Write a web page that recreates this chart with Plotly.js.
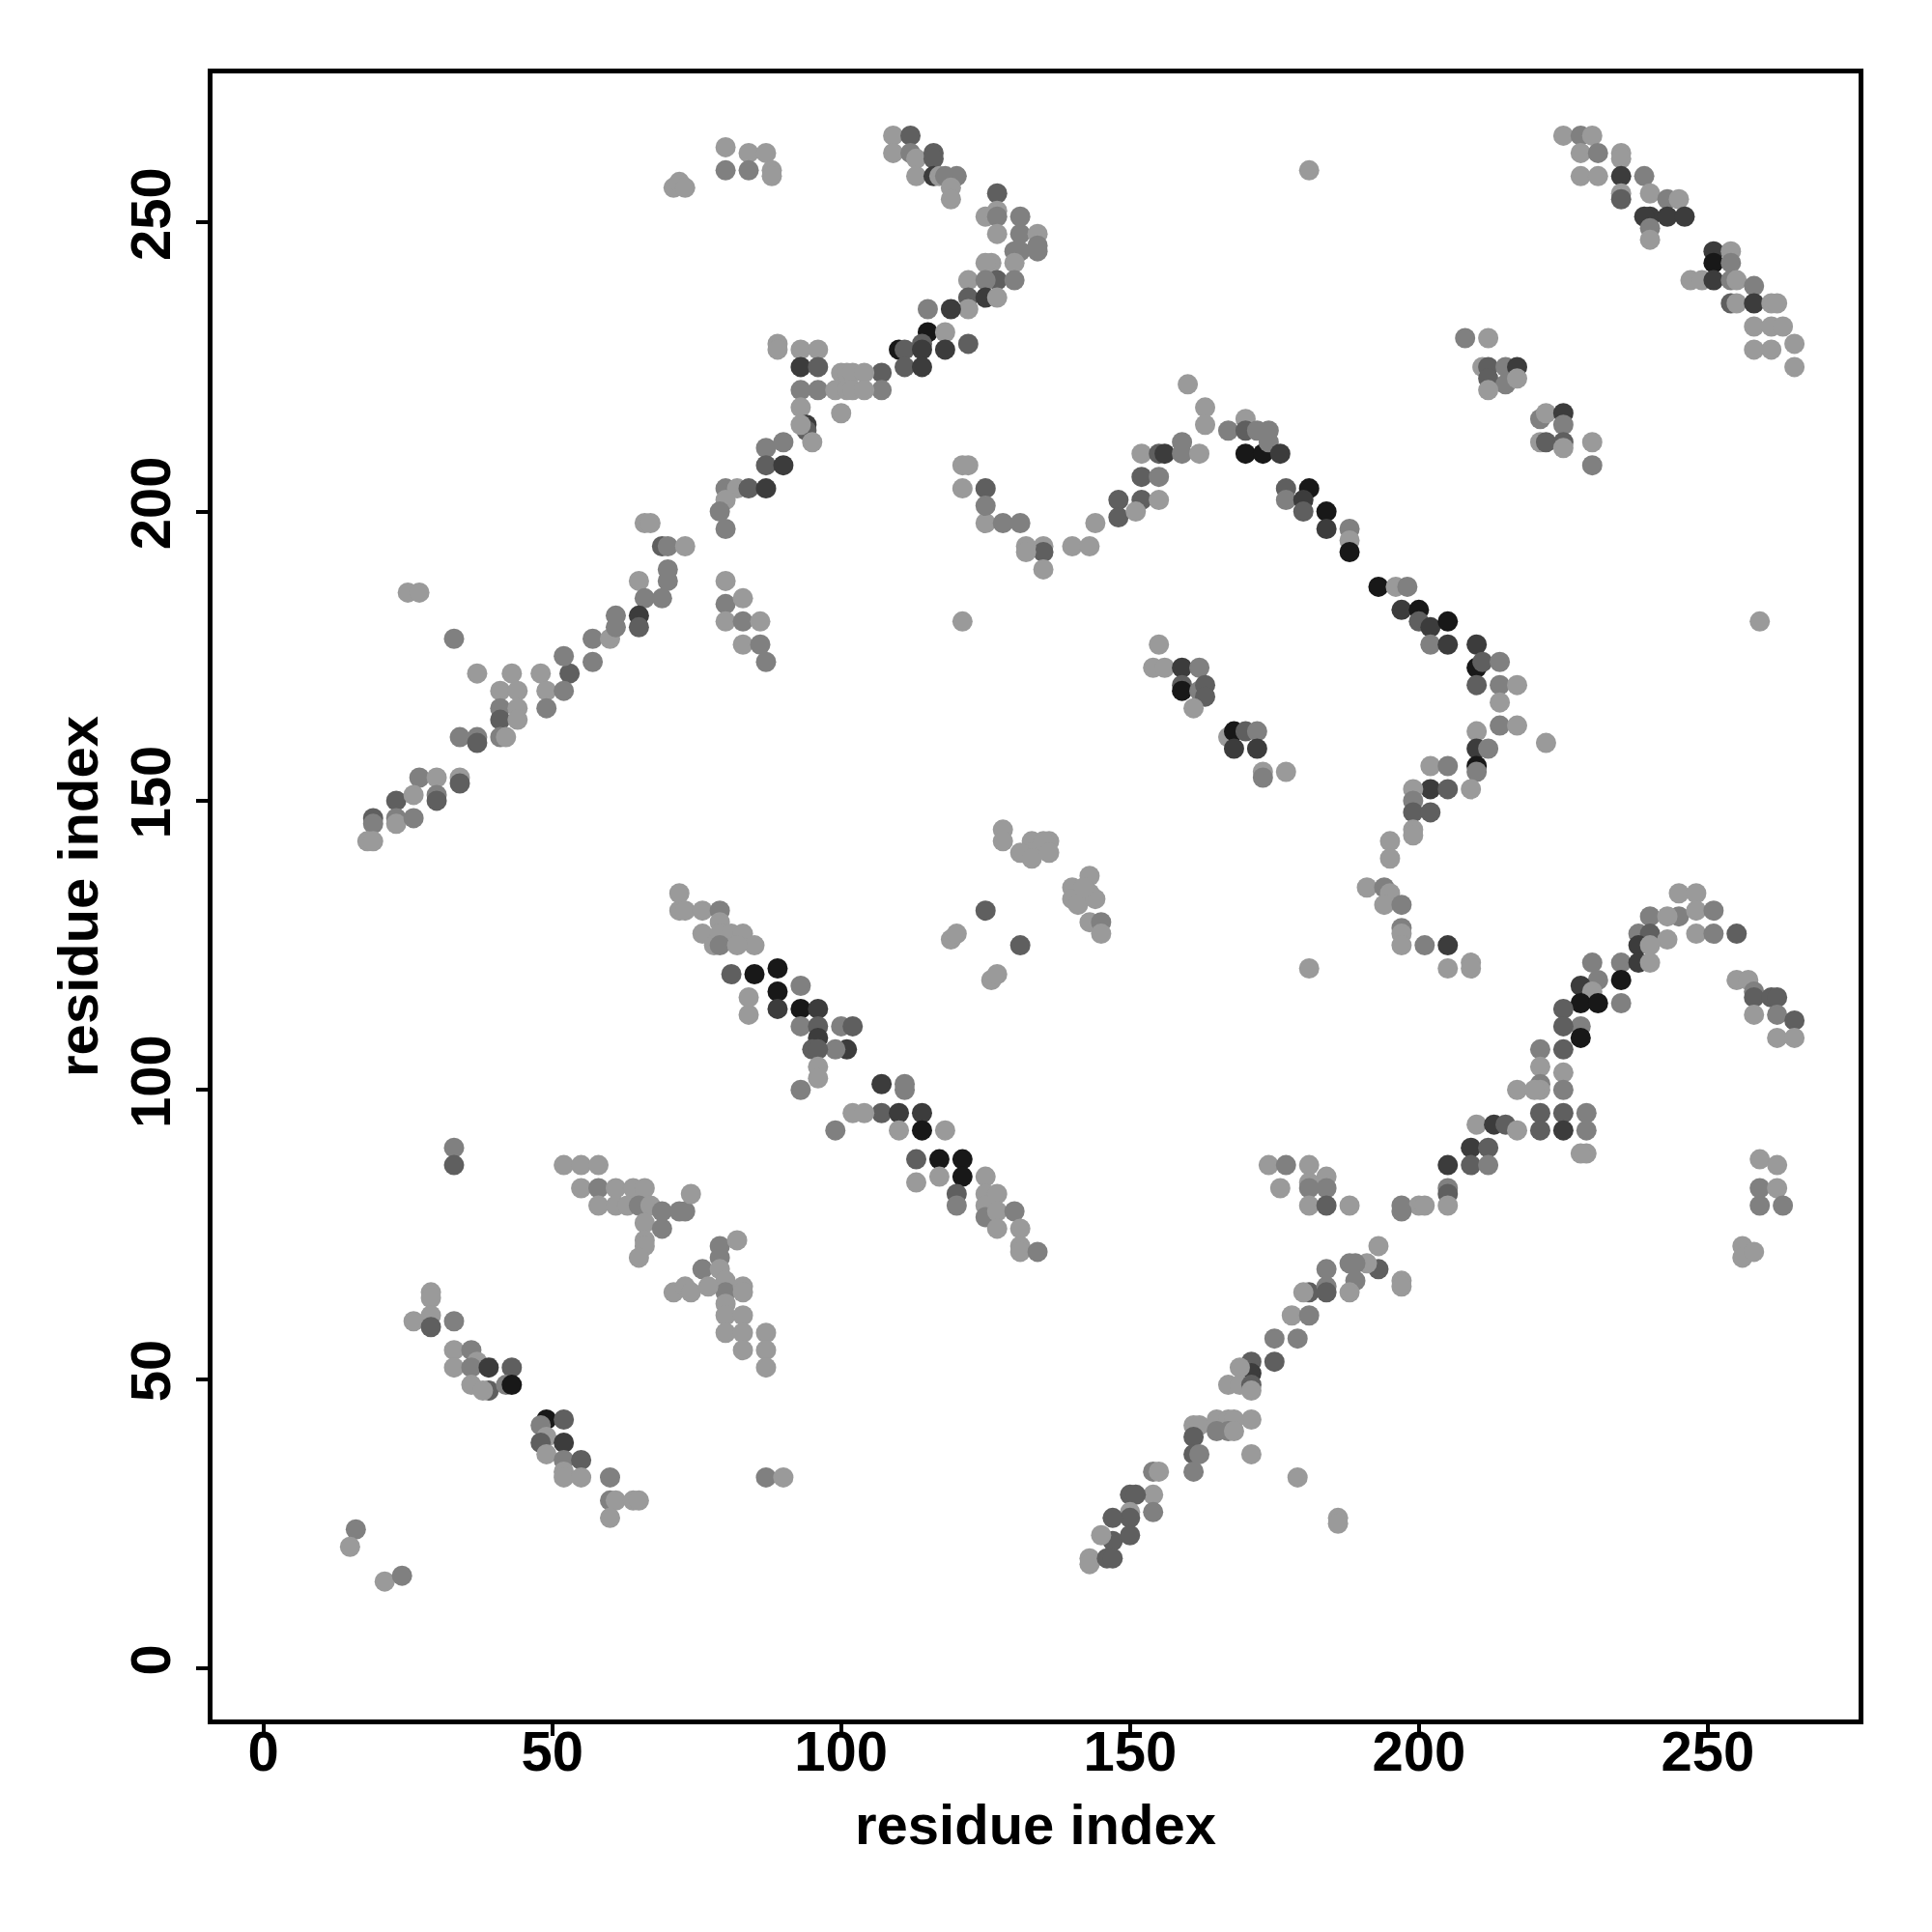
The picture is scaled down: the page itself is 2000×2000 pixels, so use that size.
<!DOCTYPE html>
<html><head><meta charset="utf-8">
<script src="https://cdn.plot.ly/plotly-3.0.1.min.js"></script>
<style>html,body{margin:0;padding:0;background:#fff}</style>
</head><body>
<div id="chart" style="width:2000px;height:2000px"></div>
<script>
// residue index pairs (x = residue i, y = residue j) and contact strength level (1 light .. 5 darkest)
const residueI = [
  // upper-left cluster
  80,84,80,84,71,72,73,80,82,84,80,79,80,66,67,69,70,73,70,70,69,65,66,65,61,25,27,80,80,83,80,83,86,
  // upper-middle arc
  87,88,88,109,112,109,112,113,116,116, 113,116,117,118,120,119,119,127,127,125, 127,127,131,131,131,130,134,134,134,126,
  125,130,122,127,125,130,122,122,125,127, 119,115,115,118,118,122,114,110,111,114, 111,114,107,107,93,96,93,96,93,96,
  89,89,100,101,102,104,99,101,102,104, 100,93,94,94,93,95,87,90,87,90, 87,
  160,163,163,167,170,170,172,174,170,173, 174,176,152,155,156,159,159,162,152,155, 152,155,148,144,148,151,140,143,135,135,
  135,132,132,125,128,131,125,125,121,122, 121,177,181,177,180,180,121,
  // upper-right
  181,225,228,230,228,231,235,235,228,231, 235,239,235,235,240,240,243,245,239,243, 246,240,240,251,254,251,254,247,249,251,
  254,255,258,254,255,258,261,262,258,261, 263,258,261,265,265,208,212,211,212,215, 217,212,215,217,212,221,222,225,225,221,
  222,225,225,230,230,184,184,188,188,188, 193,196,198,197,200,200,202,205,259,
  // middle-left
  33,37,43,41,44,41,44,41,44,41, 42,34,37,37,48,53,49,52,49,52, 57,60,61,57,65,83,86,87,27,30,
  34,34,23,26,30,30,19,19,23,23, 26,18,19,72,72,73,76,79,79,76, 79,81,83,85,78,79,82,81,85,84,
  84,33,33,52,55,58,
  // centre
  155,154,156,159,162,159,159,162,163,163, 161,167,168,170,172,168,172,173,173,177, 128,128,133,136,135,133,131,133,135,136,
  143,143,140,140,141,144,142,143,145,145, 125,131,119,120,126,127,181,89,89,89, 93,93,96,93,96,96,100,102,101,99,
  95,96,96,96,93,107,111,111,107,110, 114,114,102,104,99,110,118,113,117,121, 117,121,125,174,177,181,
  // middle-right
  202,205,210,210,211,214,210,214,217,214, 214,217,222,210,210,212,210,210,202,205, 202,205,209,199,199,199,202,199,199,195,
  195,191,194,195,194,197,197,197,197,201, 205,205,209,209,245,248,240,245,248,251, 243,238,240,243,248,251,255,238,240,235,
  238,240,235,235,230,231,228,230,228,231, 225,228,225,228,221,225,221,221,221,225, 225,217,220,221,225,229,221,225,229,229,
  228,210,213,215,217,209,212,205,209,212, 255,257,258,258,261,262,258,262,265,262, 265,259,262,184,
  // lower-left
  55,58,61,64,66,58,61,63,65,67, 69,72,73,74,66,69,66,66,65,79, 79,82,76,79,80,80,71,73,74,77,
  83,83,80,80,83,80,83,83,87,87, 87,29,29,26,29,29,33,33,33,36, 37,36,39,43,36,39,42,43,38,49,
  52,48,49,48,52,49,52,55,52,52, 55,60,60,61,64,65,60,16,15,21, 24,87,90,
  // lower-middle
  113,120,120,125,125,125,127,127,127,130, 131,131,131,134,176,181,181,181,181,180, 178,181,179,175,171,175,171,169,167,169,
  171,171,171,171,179,161,162,165,167,168, 165,167,168,161,161,162,161,154,155,154, 154,150,151,150,150,147,147,150,145,143,
  143,146,147,
  // lower-right
  184,184,188,197,200,201,197,205,205,205, 259,262,259,263,256,256,258,193,193,191, 189,188,184,189,188,184,184,197,197,186,
  186
];
const residueJ = [
  263,262,259,259,256,257,256,204,204,204,202,200,197,198,198,194,194,194,190,188,185,188,185,182,182,186,186,188,184,185,181,181,181,
  262,259,258,265,265,262,262,261,262,261, 258,258,258,258,258,256,254,255,252,251, 251,248,251,248,245,245,248,246,245,243,
  243,243,240,240,240,240,237,235,237,237, 235,235,231,231,228,229,229,228,228,228, 225,225,224,221,228,228,225,225,221,221,
  229,228,224,224,224,224,221,221,221,221, 217,218,215,214,215,212,211,212,208,208, 204,
  222,218,215,214,216,214,214,214,210,210, 212,210,210,210,210,212,210,210,206,206, 202,202,202,198,199,200,194,194,194,193,
  190,194,193,198,198,198,204,201,208,208, 204,204,204,202,202,200,181,
  259,265,265,265,262,262,262,261,258,258, 258,258,255,254,255,251,254,254,251,251, 251,249,247,245,245,243,243,240,240,240,
  240,240,239,236,236,236,236,236,232,232, 232,228,228,229,225,230,230,225,225,225, 225,223,222,223,221,216,217,217,215,212,
  212,212,211,212,208,200,197,197,195,193, 187,187,187,183,183,181,180,181,181,
  178,172,172,169,169,166,166,164,164,161, 161,161,161,160,172,172,169,169,166,175, 178,178,180,174,180,177,177,174,154,154,
  154,153,150,151,151,150,147,146,147,146, 147,143,143,134,131,131,131,131,129,127, 127,127,127,125,125,125,125,120,120,116,
  113,90,87,87,87,87,
  177,173,173,173,173,170,169,169,170,168, 166,161,162,162,162,159,159,155,154,155, 145,143,143,143,142,141,141,140,143,141,
  137,134,135,133,132,133,135,129,129,127, 131,125,126,127,119,120,121,121,117,114, 118,114,114,111,111,109,111,111,107,107,
  107,107,104,102,100,101,101,100,96,96, 96,93,96,96,93,93,93,88,88,88, 85,85,85,87,87,87,
  177,177,177,173,174,174,170,170,170,167, 163,163,160,162,159,159,156,155,156,156, 152,152,152,152,150,148,148,145,144,143,
  140,135,135,134,132,132,128,127,125,125, 125,121,122,121,134,134,130,130,131,131, 130,127,127,126,127,127,127,125,125,122,
  122,122,119,115,122,119,118,117,115,115, 114,111,111,109,107,107,104,101,100,103, 100,100,100,96,96,96,93,93,93,89,
  89,94,94,94,93,90,90,87,87,87, 119,119,117,116,116,116,113,113,112,109, 109,88,87,85,
  83,83,83,83,83,80,80,80,80,80, 79,79,79,82,77,76,74,73,71,73, 71,74,69,69,67,65,65,66,65,66,
  66,65,63,61,61,58,58,55,58,55, 52,65,64,60,61,59,60,55,52,55, 53,52,52,52,49,48,49,49,48,43,
  43,42,40,39,39,37,36,36,34,33, 33,33,29,29,29,29,26,24,21,15, 16,33,33,
  84,82,80,82,80,78,82,79,76,79, 76,73,72,72,83,84,83,80,65,65, 61,61,57,57,53,53,51,52,49,49,
  49,48,43,37,33,42,42,43,43,43, 41,41,41,40,37,37,34,34,34,30, 27,30,30,27,26,26,22,23,23,19,
  18,19,19,
  83,80,80,80,80,80,79,83,82,80, 83,83,80,80,73,71,72,73,69,70, 70,70,69,67,65,66,65,67,66,26,
  25
];
const contactLevel = [
  1,1,2,2,1,1,1,2,1,3,1,2,2,1,1,3,2,1,2,2,2,1,2,4,2,1,1,1,2,1,1,2,1,
  1,1,1,1,3,1,2,1,3,3, 1,4,1,2,2,1,1,3,1,1, 2,1,2,2,2,2,1,2,2,1,
  1,1,1,3,2,2,3,1,4,1, 4,2,5,1,4,3,3,5,3,4, 3,4,3,2,1,1,4,3,2,2,
  1,1,1,1,1,1,1,1,1,1, 1,1,4,3,1,1,2,2,3,4, 4,
  1,1,1,2,1,3,2,2,5,5, 2,4,1,3,4,2,2,1,3,2, 3,1,3,1,3,1,1,1,1,3,
  1,1,1,1,2,2,3,2,1,1, 1,3,5,2,4,3,1,
  1,1,2,1,1,2,1,1,1,1, 4,2,1,3,1,4,2,1,4,4, 4,2,1,4,1,5,2,1,1,4,
  2,1,2,3,1,4,1,1,1,1, 1,1,1,1,1,2,1,1,3,2, 4,3,2,1,1,2,1,4,2,1,
  3,3,1,1,2,5,4,2,1,5, 5,1,2,4,5,3,4,5,1,
  2,1,1,1,1,2,1,3,1,2, 1,2,2,3,1,3,1,2,2,2, 2,1,2,2,3,1,2,2,2,1,
  1,3,3,1,2,3,3,2,2,1, 2,1,1,1,1,1,1,2,1,1, 1,1,1,1,1,2,1,3,5,1,
  1,2,3,1,1,1,
  1,1,1,4,2,3,5,2,3,3, 1,1,5,3,2,4,4,1,2,1, 1,1,1,1,1,1,1,1,1,1,
  1,1,1,1,1,1,1,1,2,1, 3,3,1,1,1,1,1,5,5,4, 2,5,4,2,3,4,2,3,4,2,
  3,3,1,1,2,4,2,2,3,4, 4,5,1,1,2,1,1,3,5,5, 1,5,1,1,2,1,
  2,4,4,5,3,2,3,2,1,1, 2,1,1,1,4,2,5,2,1,2, 4,3,1,1,2,3,3,1,1,1,
  1,1,2,1,1,2,2,1,1,2, 4,1,1,1,1,1,2,2,1,2, 1,2,3,1,1,2,3,4,1,2,
  4,1,5,2,2,2,4,1,5,5, 3,2,3,5,2,3,1,2,1,1, 2,1,1,3,3,2,3,4,2,1,
  1,1,4,3,1,4,3,4,3,2, 1,1,2,3,3,3,1,2,3,1, 1,1,1,1,
  1,2,1,1,1,1,1,1,2,1, 2,2,2,1,1,2,1,1,1,2, 2,1,2,1,1,2,1,1,1,1,
  1,1,1,1,1,1,1,1,1,1, 1,1,1,1,1,3,2,1,1,2, 1,2,4,3,1,3,2,5,1,5,
  3,2,1,3,4,1,2,3,1,1, 1,2,2,1,1,1,1,2,1,1, 2,2,1,
  1,3,2,1,1,2,1,1,1,2, 1,1,1,2,1,1,2,1,3,1, 1,2,2,2,3,3,4,1,1,1,
  3,1,1,1,1,1,1,1,1,1, 2,2,1,3,3,2,2,2,1,1, 2,3,3,1,3,3,3,3,1,1,
  1,3,3,
  2,3,1,2,1,1,2,2,3,1, 2,1,2,2,1,1,1,1,3,1, 2,2,2,2,1,2,3,1,1,1,
  1
];
const levelGrays = ['#9a9a9a', '#808080', '#5f5f5f', '#3c3c3c', '#181818'];
const tickValues = [0, 50, 100, 150, 200, 250];
const tickLabels = ['0', '50', '100', '150', '200', '250'];

const FONT = 'Liberation Sans, Arial, Helvetica, sans-serif';
const colors = contactLevel.map(v => levelGrays[v - 1]);

const trace = {
  type: 'scatter', mode: 'markers',
  x: residueI, y: residueJ,
  marker: {size: 21, color: colors, line: {width: 0}},
  hoverinfo: 'x+y'
};

const axisCommon = {
  tickvals: tickValues, ticktext: tickLabels,
  ticks: 'outside', ticklen: 12, tickwidth: 4, tickcolor: '#000',
  showline: true, linewidth: 5, linecolor: '#000', mirror: true,
  showgrid: false, zeroline: false,
  tickfont: {family: FONT, size: 58, color: '#000', weight: 'bold'},
  automargin: false
};

const layout = {
  width: 2000, height: 2000,
  margin: {l: 220, r: 76, t: 76, b: 220},
  paper_bgcolor: '#fff', plot_bgcolor: '#fff',
  showlegend: false,
  font: {family: FONT, size: 58, color: '#000', weight: 'bold'},
  xaxis: Object.assign({}, axisCommon, {
    range: [-8.8, 276.1],
    ticklabelstandoff: -34,
    title: {text: 'residue index', font: {family: FONT, size: 58, color: '#000', weight: 'bold'}, standoff: 26}
  }),
  yaxis: Object.assign({}, axisCommon, {
    range: [-8.86, 275.76],
    tickangle: -90,
    ticklabelstandoff: 4,
    title: {text: 'residue index', font: {family: FONT, size: 58, color: '#000', weight: 'bold'}, standoff: 4}
  })
};

Plotly.newPlot('chart', [trace], layout, {displayModeBar: false, staticPlot: true});
</script>
</body></html>
